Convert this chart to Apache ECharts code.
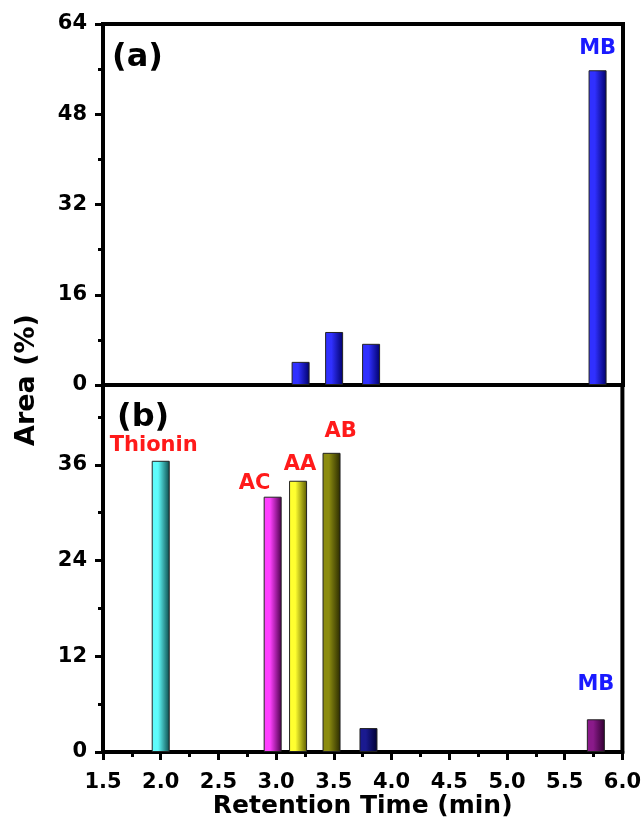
<!DOCTYPE html>
<html><head><meta charset="utf-8">
<script src="https://cdn.jsdelivr.net/npm/echarts@6/dist/echarts.min.js"></script>
<style>html,body{margin:0;padding:0;background:#fff}#c{width:644px;height:825px}</style>
</head><body><div id="c"></div>
<script>
// ---- data ----
const timesA = [3.21, 3.50, 3.82, 5.78];
const areasA = [4.1, 9.4, 7.3, 55.8];
const labelsA = ['', '', '', 'MB'];
const timesB = [2.00, 2.97, 3.19, 3.48, 3.80, 5.77];
const areasB = [36.5, 32.0, 34.0, 37.5, 3.0, 4.1];
const labelsB = ['Thionin', 'AC', 'AA', 'AB', '', 'MB'];
const xTicks = ['1.5','2.0','2.5','3.0','3.5','4.0','4.5','5.0','5.5','6.0'];
const yTicksA = [0, 16, 32, 48, 64];
const yTicksB = [0, 12, 24, 36];

// ---- styles ----
const FONT = '"DejaVu Sans", Arial, sans-serif';
const colorsA = [['#3030ff','#00006a'],['#3030ff','#00006a'],['#3030ff','#00006a'],['#3030ff','#00006a']];
const colorsB = [['#5ffcfc','#0a4a4a'],['#ff40ff','#4a004a'],['#ffff30','#5a5a00'],['#8c8c10','#2a2a00'],['#1a1a90','#000030'],['#8a1a8a','#300030']];
const labelColor = {Thionin:'#ff1a1a', AC:'#ff1a1a', AA:'#ff1a1a', AB:'#ff1a1a', MB:'#1a1aff'};
const labelOffsetA = {MB:[0,-6]};
const labelOffsetB = {Thionin:[-7,0], AC:[-18,2], AA:[2,-1], AB:[9,-6], MB:[0,-19]};

function grad(c){
  return {type:'linear',x:0,y:0,x2:1,y2:0,colorStops:[{offset:0,color:c[0]},{offset:0.35,color:c[0]},{offset:1,color:c[1]}]};
}
function mk(times, areas, labels, colors, offs){
  return times.map((t,i)=>{
    const lb = labels[i];
    return {
      value:[t, areas[i]],
      itemStyle:{color:grad(colors[i]), borderColor:'#222', borderWidth:1},
      label: lb ? {show:true, position:'top', formatter:lb, color:labelColor[lb], fontSize:21,
                   fontWeight:'bold', fontFamily:FONT, offset:offs[lb]||[0,0]} : {show:false}
    };
  });
}

const tickLbl = {fontSize:21, fontWeight:'bold', color:'#000', fontFamily:FONT};
const chart = echarts.init(document.getElementById('c'));
chart.setOption({
  animation:false,
  grid:[
    {left:103, right:21, top:24, height:361, show:true, borderColor:'#000', borderWidth:4, backgroundColor:'transparent'},
    {left:103, right:21, top:385, height:367, show:true, borderColor:'#000', borderWidth:4, backgroundColor:'transparent'}
  ],
  xAxis:[
    {gridIndex:0, type:'value', min:1.5, max:6.0, interval:0.5,
     axisLine:{show:false}, axisTick:{show:false}, axisLabel:{show:false}, splitLine:{show:false}},
    {gridIndex:1, type:'value', min:1.5, max:6.0, interval:0.5,
     name:'Retention Time (min)', nameLocation:'middle', nameGap:41,
     nameTextStyle:{fontSize:25, fontWeight:'bold', color:'#000', fontFamily:FONT},
     axisLine:{show:true, lineStyle:{color:'#000', width:4}},
     axisTick:{show:true, inside:false, length:8, lineStyle:{color:'#000', width:3}},
     minorTick:{show:true, splitNumber:2, length:5, lineStyle:{color:'#000', width:3}},
     axisLabel:Object.assign({margin:20, formatter:v=>{const s=v.toFixed(1);return xTicks.indexOf(s)>=0?s:'';}}, tickLbl),
     splitLine:{show:false}}
  ],
  yAxis:[
    {gridIndex:0, type:'value', min:0, max:64, interval:16,
     axisLine:{show:true, lineStyle:{color:'#000', width:4}},
     axisTick:{show:true, length:8, lineStyle:{color:'#000', width:3}},
     minorTick:{show:true, splitNumber:2, length:5, lineStyle:{color:'#000', width:3}},
     axisLabel:Object.assign({margin:16, formatter:v=>yTicksA.indexOf(v)>=0?String(v):''}, tickLbl),
     splitLine:{show:false}},
    {gridIndex:1, type:'value', min:0, max:46, interval:12,
     axisLine:{show:true, lineStyle:{color:'#000', width:4}},
     axisTick:{show:true, length:8, lineStyle:{color:'#000', width:3}},
     minorTick:{show:true, splitNumber:2, length:5, lineStyle:{color:'#000', width:3}},
     axisLabel:Object.assign({margin:16, showMaxLabel:false, formatter:v=>yTicksB.indexOf(v)>=0?String(v):''}, tickLbl),
     splitLine:{show:false}}
  ],
  series:[
    {type:'bar', xAxisIndex:0, yAxisIndex:0, barWidth:18, data:mk(timesA, areasA, labelsA, colorsA, labelOffsetA)},
    {type:'bar', xAxisIndex:1, yAxisIndex:1, barWidth:18, data:mk(timesB, areasB, labelsB, colorsB, labelOffsetB)}
  ],
  graphic:[
    {type:'text', left:112, top:42, style:{text:'(a)', fontSize:32, fontWeight:'bold', fill:'#000', fontFamily:FONT}},
    {type:'text', left:117, top:402, style:{text:'(b)', fontSize:32, fontWeight:'bold', fill:'#000', fontFamily:FONT}},
    {type:'text', x:27, y:380, rotation:Math.PI/2,
     style:{text:'Area (%)', fontSize:27, fontWeight:'bold', fill:'#000', fontFamily:FONT, textAlign:'center', textVerticalAlign:'middle'}}
  ]
});
</script></body></html>
